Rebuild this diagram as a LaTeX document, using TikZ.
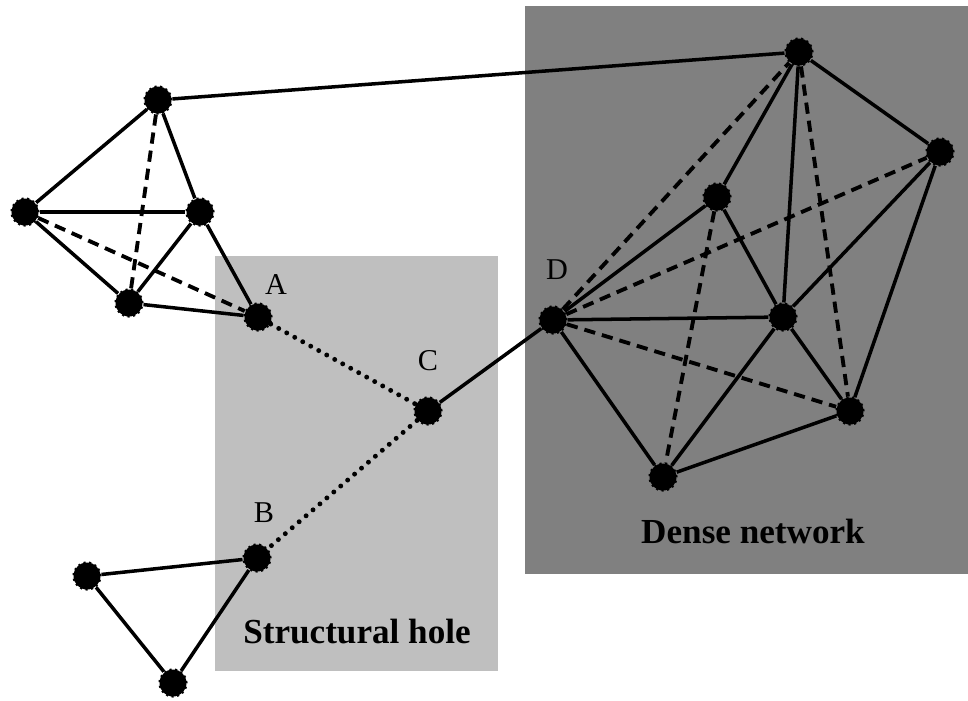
\documentclass[tikz,border=0pt]{standalone}
\usepackage{fontspec}
\setmainfont{Liberation Serif}
\begin{document}
\begin{tikzpicture}[x = 0.1mm, y = -0.1mm,
	dot/.style = {circle, fill = black, draw = black, densely dotted, line width = 0.6pt, minimum size = 0.27cm, inner sep = 0pt},
	tie/.style = {line width = 1pt},
	weak/.style = {line width = 1.1pt, dash pattern = on 3.2pt off 2pt},
	gap/.style = {line width = 1.4pt, dash pattern = on 0pt off 2.6pt, line cap = round},
	lbl/.style = {font = \fontsize{8.6}{10}\selectfont},
	title/.style = {font = \fontsize{10}{12}\selectfont\bfseries}]
	%	canvas
	\useasboundingbox (0, 0) rectangle (968, 700);
	
	%	shaded regions
	\fill[black!25] (215, 256) rectangle (498, 671);
	\fill[black!50] (525, 6) rectangle (968, 574);
	
	%	left cluster
	\node[dot] (l1) at (158, 100) {};
	\node[dot] (l2) at (25, 212) {};
	\node[dot] (l3) at (200, 212) {};
	\node[dot] (l4) at (129, 303) {};
	\node[dot] (A) at (258, 317) {};
	
	%	broker and lower triangle
	\node[dot] (C) at (428, 411) {};
	\node[dot] (B) at (257, 558) {};
	\node[dot] (b1) at (87, 576) {};
	\node[dot] (b2) at (173, 683) {};
	
	%	dense cluster
	\node[dot] (D) at (553, 320) {};
	\node[dot] (d1) at (799, 52) {};
	\node[dot] (d2) at (940, 152) {};
	\node[dot] (d3) at (717, 197) {};
	\node[dot] (d4) at (783, 317) {};
	\node[dot] (d5) at (850, 411) {};
	\node[dot] (d6) at (663, 477) {};
	
	%	labels
	\node[lbl] at (276, 285) {A};
	\node[lbl] at (264, 513) {B};
	\node[lbl] at (428, 361) {C};
	\node[lbl] at (557, 270) {D};
	\node[title] at (357, 632) {Structural hole};
	\node[title] at (753, 531) {Dense network};
	
	%	left cluster ties
	\draw[tie] (l1) -- (l2);
	\draw[tie] (l1) -- (l3);
	\draw[weak] (l1) -- (l4);
	\draw[tie] (l2) -- (l3);
	\draw[tie] (l2) -- (l4);
	\draw[weak] (l2) -- (A);
	\draw[tie] (l3) -- (l4);
	\draw[tie] (l3) -- (A);
	\draw[tie] (l4) -- (A);
	\draw[tie] (l1) -- (d1);
	
	%	across the hole
	\draw[gap] (A) -- (C);
	\draw[gap] (C) -- (B);
	\draw[tie] (C) -- (D);
	
	%	triangle
	\draw[tie] (B) -- (b1);
	\draw[tie] (B) -- (b2);
	\draw[tie] (b1) -- (b2);
	
	%	dense cluster ties
	\draw[weak] (D) -- (d1);
	\draw[weak] (D) -- (d2);
	\draw[tie] (D) -- (d3);
	\draw[tie] (D) -- (d4);
	\draw[weak] (D) -- (d5);
	\draw[tie] (D) -- (d6);
	\draw[tie] (d1) -- (d2);
	\draw[tie] (d1) -- (d3);
	\draw[tie] (d1) -- (d4);
	\draw[weak] (d1) -- (d5);
	\draw[tie] (d2) -- (d4);
	\draw[tie] (d2) -- (d5);
	\draw[tie] (d3) -- (d4);
	\draw[weak] (d3) -- (d6);
	\draw[tie] (d4) -- (d5);
	\draw[tie] (d4) -- (d6);
	\draw[tie] (d5) -- (d6);
\end{tikzpicture}
\end{document}
